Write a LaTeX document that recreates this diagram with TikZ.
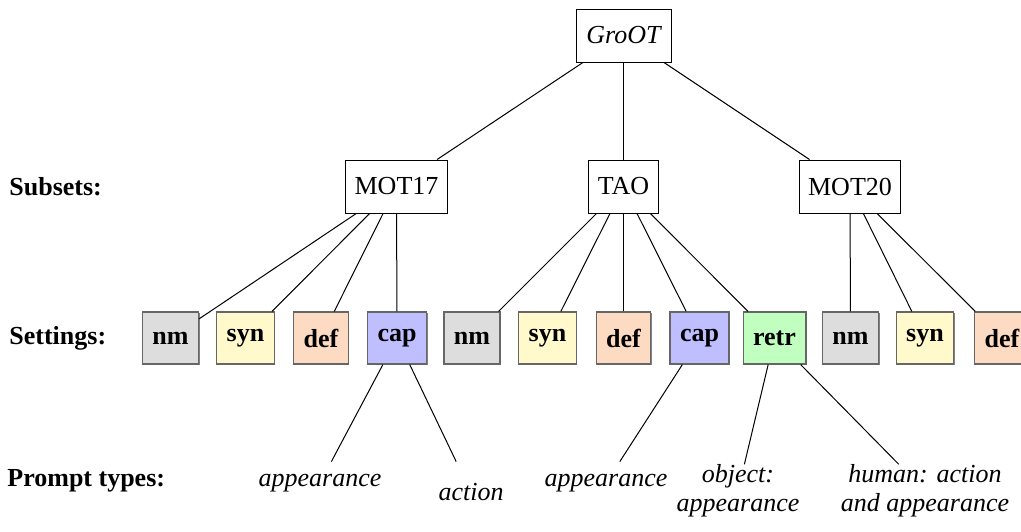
\documentclass[tikz,border=0pt]{standalone}
\usepackage{fontspec}
\setmainfont{Liberation Serif}
\usetikzlibrary{shadows}
\definecolor{NmClr}{HTML}{DDDDDD}
\definecolor{SynClr}{HTML}{FFF9CC}
\definecolor{DefClr}{HTML}{FDDAC2}
\definecolor{CapClr}{HTML}{BFBFFF}
\definecolor{RetrClr}{HTML}{C0FFC0}

\begin{document}
\begin{tikzpicture}[x=0.5pt,y=-0.5pt,
  font=\fontsize{13}{14.5}\selectfont,
  subset/.style={draw,line width=0.5pt,inner xsep=4.5pt,minimum height=26.5pt},
  setting/.style={draw=black!60,line width=0.6pt,inner xsep=5pt,minimum height=26pt,
    font=\fontsize{13}{14.5}\selectfont\bfseries,
    drop shadow={shadow xshift=0.5pt,shadow yshift=-0.5pt,opacity=0.7,fill=black!70}},
  prompt/.style={inner sep=0pt,font=\fontsize{13}{14.5}\selectfont\itshape,align=center},
  rowlabel/.style={anchor=west,inner sep=0pt,font=\fontsize{13}{14.5}\selectfont\bfseries},
  link/.style={line width=0.5pt}]
\useasboundingbox (0,0) rectangle (1021,531);

\node[rowlabel] (lsub) at (9,187) {Subsets:};
\node[rowlabel] (lset) at (9,338) {Settings:};
\node[rowlabel] (lpro) at (7,481) {Prompt types:};

\node[subset,minimum width=47.5pt,font=\fontsize{13}{14.5}\selectfont\itshape] (groot) at (623.5,35.5) {GroOT};
\node[subset] (mota) at (396.5,186.5) {MOT17};
\node[subset] (tao) at (623.5,186.5) {TAO};
\node[subset] (motb) at (850,186.5) {MOT20};

\node[setting,fill=NmClr] (nmA) at (170.5,338) {nm};
\node[setting,fill=SynClr] (synA) at (245.5,338) {syn};
\node[setting,fill=DefClr] (defA) at (321,338) {def};
\node[setting,fill=CapClr] (capA) at (397,338) {cap};
\node[setting,fill=NmClr] (nmB) at (472,338) {nm};
\node[setting,fill=SynClr] (synB) at (547.5,338) {syn};
\node[setting,fill=DefClr] (defB) at (623.5,338) {def};
\node[setting,fill=CapClr] (capB) at (699.5,338) {cap};
\node[setting,fill=RetrClr] (retrB) at (774.5,338) {retr};
\node[setting,fill=NmClr] (nmC) at (850.5,338) {nm};
\node[setting,fill=SynClr] (synC) at (925,338) {syn};
\node[setting,fill=DefClr] (defC) at (1002,338) {def};

\node[prompt,minimum height=21pt] (appA) at (320,483) {appearance};
\node[prompt,minimum height=30.5pt] (actA) at (471,492.5) {action};
\node[prompt,minimum height=21pt] (appB) at (606,483) {appearance};
\node[prompt] (objB) at (738,491) {object:\\appearance};
\node[prompt] (humB) at (925,491) {human: action\\and appearance};

\foreach \s in {mota,tao,motb} \draw[link] (groot) -- (\s);
\foreach \s in {nmA,synA,defA,capA} \draw[link] (mota) -- (\s);
\foreach \s in {nmB,synB,defB,capB,retrB} \draw[link] (tao) -- (\s);
\foreach \s in {nmC,synC,defC} \draw[link] (motb) -- (\s);
\draw[link] (capA) -- (appA) (capA) -- (actA);
\draw[link] (capB) -- (appB);
\draw[link] (retrB) -- (objB) (retrB) -- (humB);

\end{tikzpicture}
\end{document}
